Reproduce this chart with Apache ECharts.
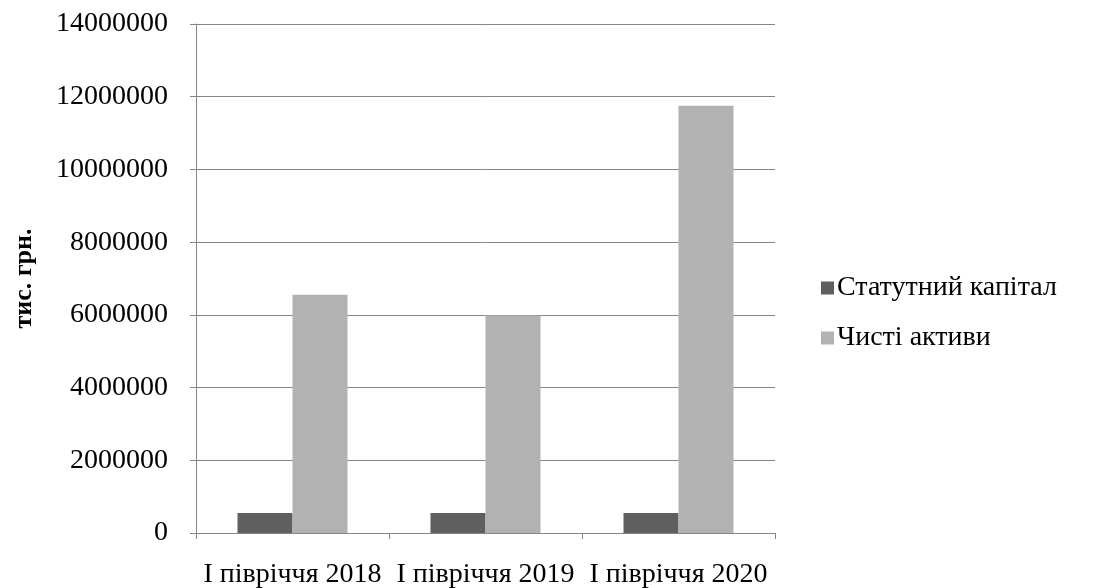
<!DOCTYPE html>
<html>
<head>
<meta charset="utf-8">
<script src="https://cdn.jsdelivr.net/npm/echarts@6/dist/echarts.min.js"></script>
<style>
  html, body { margin: 0; padding: 0; background: #ffffff; }
  #chart { width: 1094px; height: 588px; }
</style>
</head>
<body>
<div id="chart"></div>
<script>
// Half-year periods shown on the category axis
const categories = ['І півріччя 2018', 'І півріччя 2019', 'І півріччя 2020'];
// Values, thousand UAH
const charterCapital = [550000, 550000, 550000];
const netAssets = [6550000, 5980000, 11750000];
const seriesNames = ['Статутний капітал', 'Чисті активи'];
const yAxisTitle = 'тис. грн.';

const font = '"Liberation Serif", "Times New Roman", serif';
const axisGray = '#868686';

const chart = echarts.init(document.getElementById('chart'));
chart.setOption({
  backgroundColor: '#ffffff',
  animation: false,
  grid: {
    left: 196, right: 319, top: 24, bottom: 55,
    containLabel: false,
    outerBoundsMode: 'none'
  },
  legend: {
    orient: 'vertical',
    left: 816,
    top: 269,
    itemWidth: 13,
    itemHeight: 13,
    itemGap: 22,
    icon: 'rect',
    textStyle: { fontFamily: font, fontSize: 28, color: '#000', padding: [0, 0, 0, -2] },
    data: seriesNames
  },
  xAxis: {
    type: 'category',
    data: categories,
    axisLine: { lineStyle: { color: axisGray, width: 1 } },
    axisTick: { show: true, length: 6, lineStyle: { color: axisGray } },
    axisLabel: { fontFamily: font, fontSize: 28, color: '#000', margin: 28, interval: 0 }
  },
  yAxis: {
    type: 'value',
    min: 0,
    max: 14000000,
    interval: 2000000,
    name: yAxisTitle,
    nameLocation: 'middle',
    nameGap: 159,
    nameMoveOverlap: false,
    nameRotate: 90,
    nameTextStyle: { fontFamily: font, fontSize: 26, fontWeight: 'bold', color: '#000' },
    axisLine: { show: true, lineStyle: { color: axisGray, width: 1 } },
    axisTick: { show: true, length: 6, lineStyle: { color: axisGray } },
    splitLine: { show: true, lineStyle: { color: axisGray, width: 1 } },
    axisLabel: {
      fontFamily: font, fontSize: 28, color: '#000', margin: 28,
      formatter: (v) => String(v)
    }
  },
  series: [
    {
      name: seriesNames[0],
      type: 'bar',
      data: charterCapital,
      itemStyle: { color: '#5f5f5f' },
      barGap: '0%',
      barCategoryGap: '43%'
    },
    {
      name: seriesNames[1],
      type: 'bar',
      data: netAssets,
      itemStyle: { color: '#b2b2b2' },
      barGap: '0%',
      barCategoryGap: '43%'
    }
  ]
});
</script>
</body>
</html>
